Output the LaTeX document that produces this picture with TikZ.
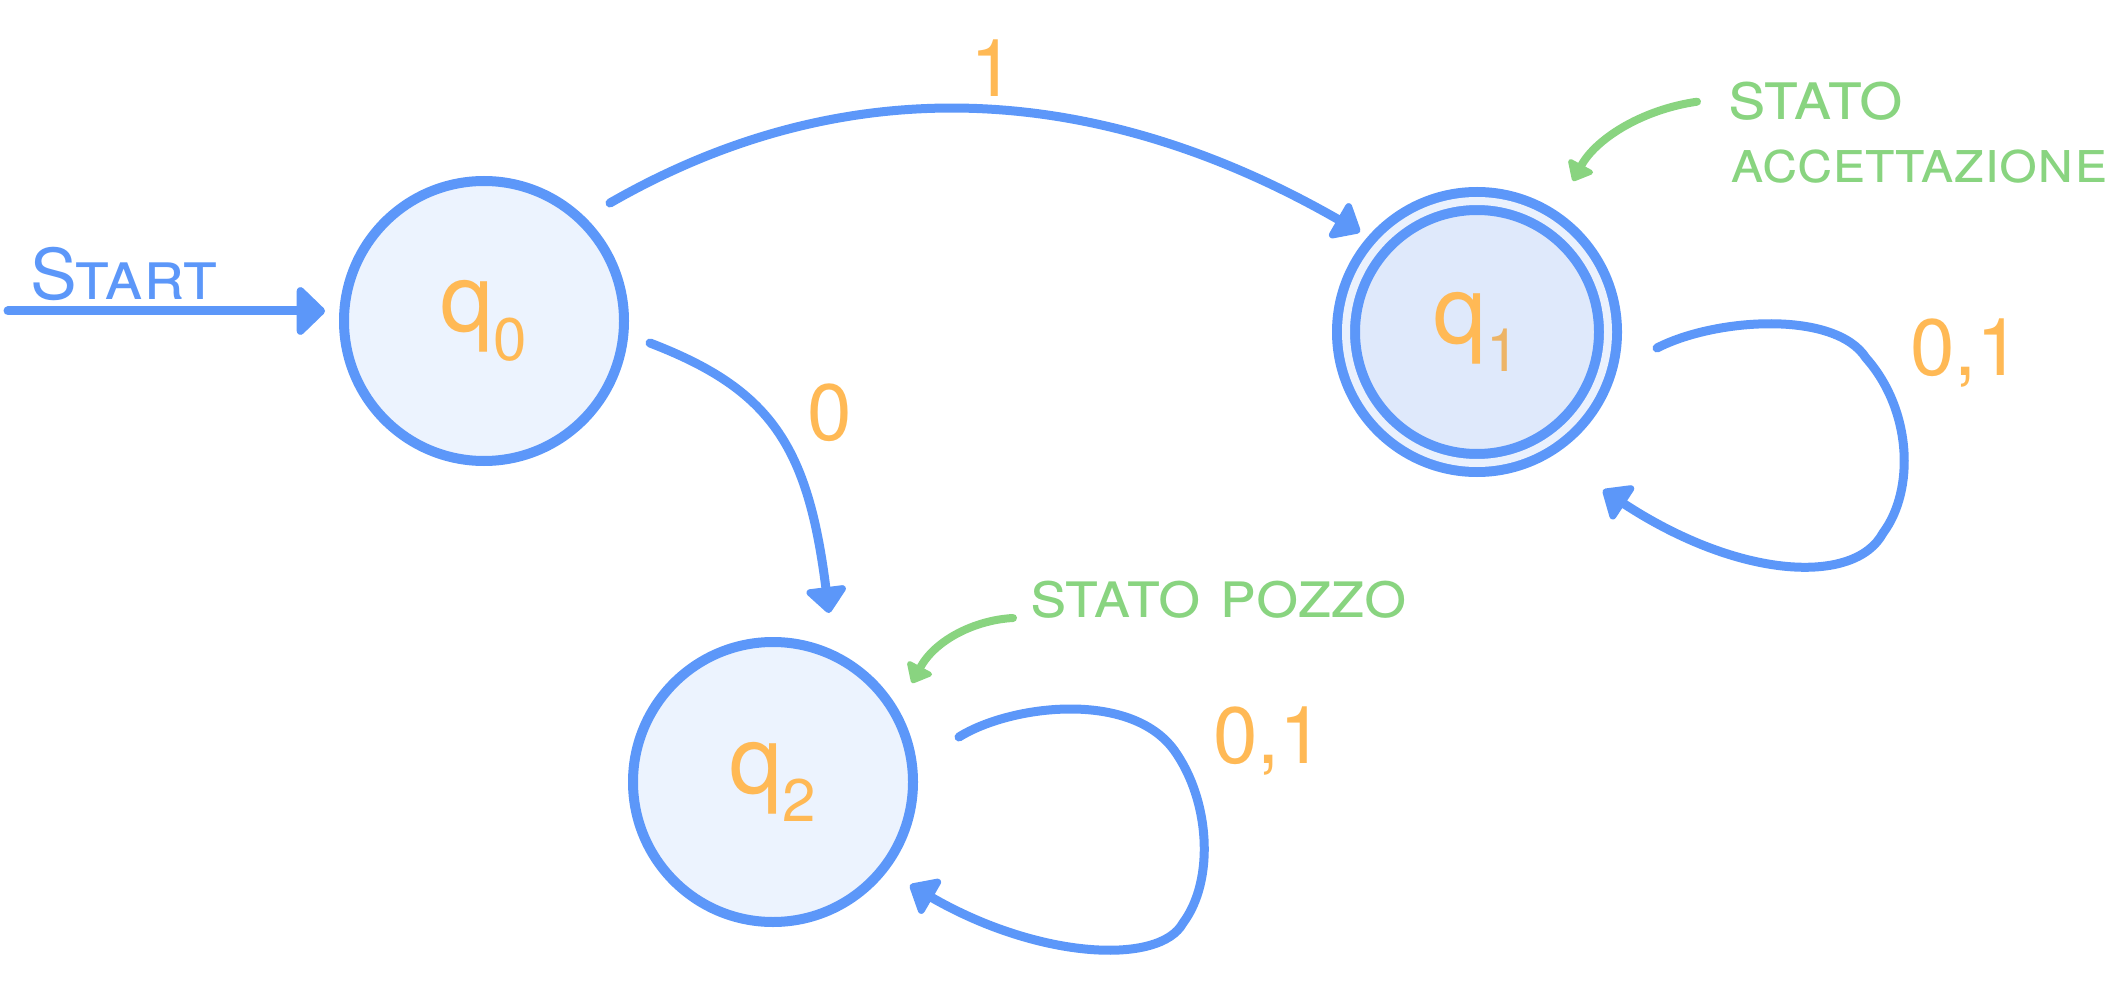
\documentclass[tikz,border=0pt]{standalone}
\usepackage{fontspec}
\setmainfont{TeX Gyre Heros}
\usetikzlibrary{arrows.meta,calc}
\definecolor{blu}{HTML}{5C97F9}
\definecolor{fillA}{HTML}{ECF3FE}
\definecolor{fillB}{HTML}{DFE9FB}
\definecolor{gapB}{HTML}{EAF1FD}
\definecolor{ora}{HTML}{FFB955}
\definecolor{oradk}{HTML}{EDB466}
\definecolor{grn}{HTML}{89D480}
\newcommand{\stname}[1]{q\raisebox{-0.3em}{\fontsize{60}{60}\selectfont #1}}
\begin{document}
\begin{tikzpicture}[x=1pt,y=-1pt,
  state/.style={circle, draw=blu, line width=10pt, fill=fillA, minimum size=280pt, inner sep=0pt, text=ora, font=\fontsize{95}{95}\selectfont},
  accstate/.style={state, fill=fillB, double=gapB, double distance=8pt, minimum size=262pt},
  conn/.style={draw=blu, line width=9pt, line cap=round, -{Triangle[length=28pt,width=46pt,round]}},
  startconn/.style={conn, -{Triangle[length=30pt,width=56pt,round]}},
  note/.style={draw=grn, line width=8pt, line cap=round, -{Triangle[length=20pt,width=32pt,round]}},
  lbl/.style={text=ora, font=\fontsize{80}{80}\selectfont, inner sep=0pt},
  notetxt/.style={text=grn, font=\fontsize{64}{64}\selectfont, inner sep=0pt}]
\useasboundingbox (0,0) rectangle (2118,1000);

% states
\node[state] (q0) at (484,321) {\stname{0}};
\node[accstate] (q1) at (1477,332) {q\raisebox{-0.3em}{\fontsize{60}{60}\selectfont\color{oradk}1}};
\node[state] (q2) at (773,782) {\stname{2}};

% start arrow
\node[text=blu, font=\fontsize{70}{70}\selectfont, inner sep=0pt, anchor=base west] (starttxt) at (30,300) {\textsc{Start}};
\coordinate (s0) at (8,311);
\coordinate (s1) at ($(q0)+(-159,-10)$);
\draw[startconn] (s0) -- (s1);

% q0 -> q1
\coordinate (a01) at ($(q0)+(126,-118)$);
\coordinate (b01) at ($(q1)+(-117,-100)$);
\draw[conn] (a01) .. controls (859,60) and (1111,89) .. (b01);
\node[lbl, anchor=base] (l1) at (993,97) {1};

% q0 -> q2
\coordinate (a02) at ($(q0)+(166,22)$);
\coordinate (b02) at ($(q2)+(56,-169)$);
\draw[conn] (a02) .. controls (770,389) and (808,445) .. (b02);
\node[lbl, anchor=base] (l0) at (830,440) {0};

% q1 loop
\coordinate (a11) at ($(q1)+(180,16)$);
\coordinate (b11) at ($(q1)+(126,158)$);
\draw[conn] (a11) .. controls (1715,318) and (1835,310) .. (1866,358)
  .. controls (1912,410) and (1915,490) .. (1883,533)
  .. controls (1855,585) and (1740,580) .. (b11);
\node[lbl, anchor=base west] (l01a) at (1910,375) {0,1};

% q2 loop
\coordinate (a22) at ($(q2)+(186,-45)$);
\coordinate (b22) at ($(q2)+(137,103)$);
\draw[conn] (a22) .. controls (1010,705) and (1130,690) .. (1174,750)
  .. controls (1210,800) and (1215,880) .. (1183,923)
  .. controls (1160,965) and (1040,960) .. (b22);
\node[lbl, anchor=base west] (l01b) at (1213,763) {0,1};

% annotation: stato accettazione
\node[notetxt, font=\fontsize{70}{70}\selectfont, anchor=base west] (acc1) at (1728,120) {\textsc{stato}};
\node[notetxt, font=\fontsize{61}{61}\selectfont, anchor=base west] (acc2) at (1730,183) {\textsc{accettazione}};
\coordinate (na1) at ($(acc1.west)+(-31,0)$);
\coordinate (na2) at (1573,181);
\draw[note] (na1) .. controls (1640,110) and (1595,140) .. (na2);

% annotation: stato pozzo
\node[notetxt, font=\fontsize{68}{68}\selectfont, anchor=west] (pozzo) at (1030,600) {\textsc{stato pozzo}};
\coordinate (np1) at ($(pozzo.west)+(-17,18)$);
\coordinate (np2) at (912,683);
\draw[note] (np1) .. controls (975,620) and (935,640) .. (np2);
\end{tikzpicture}
\end{document}
